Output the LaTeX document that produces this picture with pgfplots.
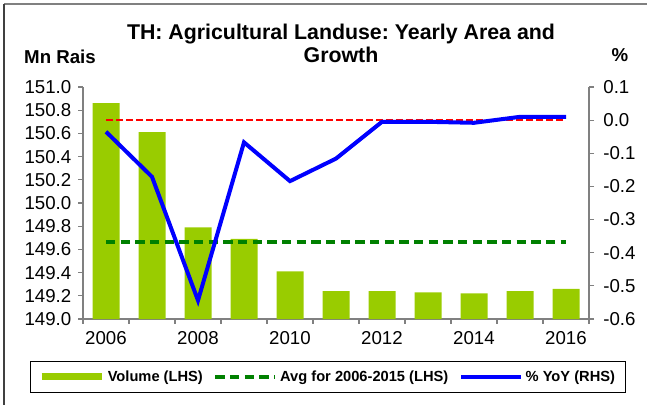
\documentclass[border=0pt]{standalone}
\usepackage{pgfplots}
\pgfplotsset{compat=1.18}
\usepackage{fontspec}
\setmainfont{Liberation Sans}
\frenchspacing

\definecolor{barg}{HTML}{99CC00}
\definecolor{avgg}{HTML}{008000}

\pgfplotsset{
  base/.style={
    at={(62.25pt,63.75pt)}, anchor=south west,
    scale only axis, width=379.5pt, height=174pt,
    xmin=-0.5, xmax=10.5,
    tick align=outside,
    axis line style={gray, line width=0.9pt},
    tick style={gray, line width=0.9pt},
    major tick length=3.75pt,
    tick label style={font=\fontsize{14}{16}\selectfont},
    /pgf/number format/assume math mode=true,
    /pgf/number format/fixed,
    /pgf/number format/fixed zerofill,
    /pgf/number format/precision=1,
  }
}

\begin{document}
\begin{tikzpicture}
\begin{scope}[x=0.75pt,y=0.75pt]
\useasboundingbox (0,0) rectangle (647,404);
\draw[line width=1.2pt, gray] (4,400) -- (660,400);
\draw[line width=1.2pt, black!75] (4,-10) -- (4,400);
\node[align=center, font=\bfseries\fontsize{16}{17.25}\selectfont] at (341,360.5)
  {TH: Agricultural Landuse: Yearly Area and\\Growth};
\node[font=\bfseries\fontsize{14}{16}\selectfont] at (60,347) {Mn Rais};
\node[font=\bfseries\fontsize{14}{16}\selectfont] at (620,349) {\%};
\end{scope}

% left axis: volume and average
\begin{axis}[base,
  axis y line*=left, axis x line*=bottom,
  ymin=149, ymax=151,
  ytick={149,149.2,149.4,149.6,149.8,150,150.2,150.4,150.6,150.8,151},
  yticklabel style={xshift=-1.5pt},
  xtick={-0.5,0.5,1.5,2.5,3.5,4.5,5.5,6.5,7.5,8.5,9.5,10.5},
  xticklabels={,,,,,,,,,,,},
  extra x ticks={0,2,4,6,8,10},
  extra x tick labels={2006,2008,2010,2012,2014,2016},
  extra x tick style={major tick length=0pt, xticklabel style={yshift=-6pt}},
]
\addplot[ybar, bar width=20.25pt, fill=barg, draw=none] coordinates {
  (0,150.86) (1,150.61) (2,149.79) (3,149.69) (4,149.41) (5,149.24)
  (6,149.24) (7,149.23) (8,149.22) (9,149.24) (10,149.26)
};
\addplot[avgg, line width=3pt, dash pattern=on 7pt off 4pt] coordinates {
  (0,149.66) (10,149.66)
};
\end{axis}

% right axis: growth
\begin{axis}[base,
  axis y line*=right, axis x line=none,
  ymin=-0.6, ymax=0.1,
  ytick={-0.6,-0.5,-0.4,-0.3,-0.2,-0.1,0,0.1},
  yticklabel style={xshift=3.5pt},
  legend image code/.code={\draw[#1] (0pt,0pt) -- (45pt,0pt);},
  legend columns=3,
  legend style={draw=black, line width=0.75pt,
    at={(axis description cs:0.484,-0.25)}, anchor=center,
    font=\bfseries\fontsize{11}{13}\selectfont,
    inner xsep=6pt, inner ysep=5pt,
    /tikz/every even column/.append style={column sep=6pt}},
]
\addlegendimage{barg, line width=5.25pt}
\addlegendentry{Volume (LHS)}
\addlegendimage{avgg, line width=3pt, dash pattern=on 7pt off 4pt}
\addlegendentry{Avg for 2006-2015 (LHS)}
\addplot[red, line width=1pt, dash pattern=on 5pt off 2.5pt, forget plot] coordinates {
  (0,0) (10,0)
};
\addplot[blue, line width=3pt] coordinates {
  (0,-0.035) (1,-0.171) (2,-0.544) (3,-0.067) (4,-0.184) (5,-0.116)
  (6,-0.005) (7,-0.005) (8,-0.008) (9,0.010) (10,0.010)
};
\addlegendentry{\% YoY (RHS)}
\end{axis}
\end{tikzpicture}
\end{document}
